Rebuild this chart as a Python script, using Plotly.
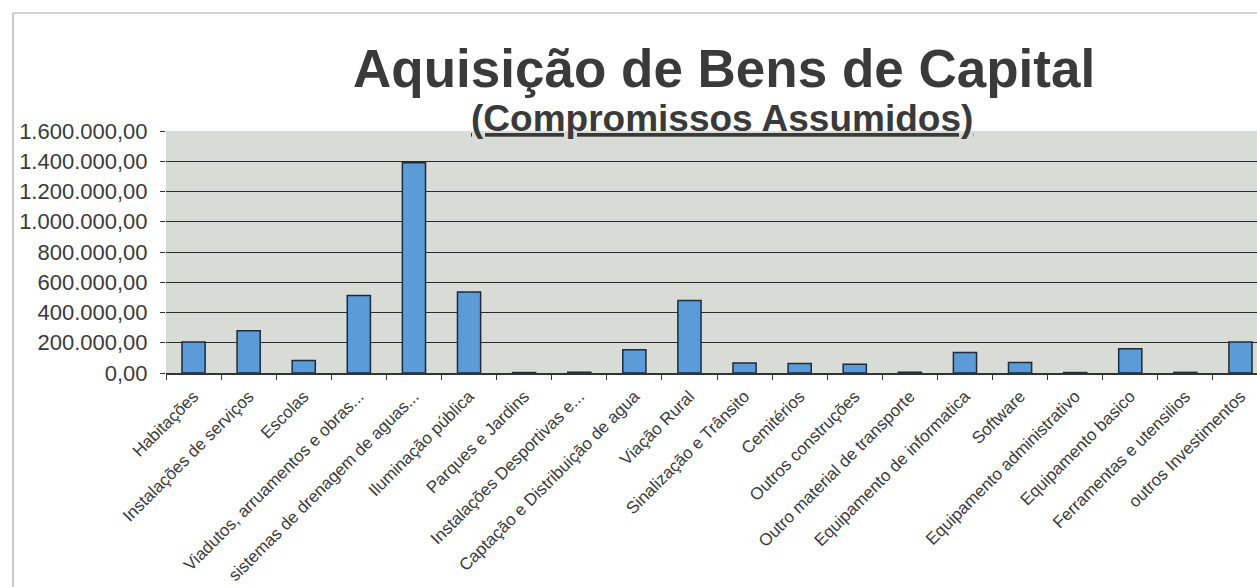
import plotly.graph_objects as go

categories = [
    "Habitações", "Instalações de serviços", "Escolas",
    "Viadutos, arruamentos e obras...", "sistemas de drenagem de aguas...",
    "Iluminação pública", "Parques e Jardins", "Instalações Desportivas e...",
    "Captação e Distribuição de agua", "Viação Rural", "Sinalização e Trânsito",
    "Cemitérios", "Outros construções", "Outro material de transporte",
    "Equipamento de informatica", "Software", "Equipamento administrativo",
    "Equipamento basico", "Ferramentas e utensilios", "outros Investimentos",
]
values = [
    205000, 280000, 83000, 513000, 1390000,
    536000, 3000, 5000, 154000, 480000, 66000,
    62000, 58000, 5000, 135000, 70000, 3000,
    160000, 4000, 205000,
]
y_ticks = [0, 200000, 400000, 600000, 800000, 1000000, 1200000, 1400000, 1600000]

W, H = 1257, 587
L, R, T, B = 166, 0, 131, 214
plot_w = W - L - R
plot_h = H - T - B


def px_x(x):
    return (x - L) / plot_w


def px_y(y):
    return ((H - y) - B) / plot_h


fig = go.Figure()
fig.add_trace(go.Bar(
    x=categories, y=values,
    marker=dict(color="#5b9bd8", line=dict(color="#1f2a3a", width=1.5)),
    width=0.42,
))

fig.update_layout(
    width=W, height=H,
    margin=dict(l=L, r=R, t=T, b=B, autoexpand=False),
    paper_bgcolor="white",
    plot_bgcolor="#d9dbd6",
    separators=",.",
    showlegend=False,
    font=dict(family="Liberation Sans, Arial, sans-serif", color="#3a3a3a"),
    xaxis=dict(
        type="category",
        range=[-0.5, 19.3],
        tickangle=-45,
        tickfont=dict(size=17, color="#3a3a3a"),
        ticks="outside", tickson="boundaries", ticklen=5, tickcolor="#333",
        ticklabelstandoff=5,
        showline=True, linecolor="#333", linewidth=1.5,
        showgrid=False,
        automargin=False,
    ),
    yaxis=dict(
        range=[0, 1600000],
        tickvals=y_ticks,
        tickformat=",.2f",
        tickfont=dict(size=22, color="#3a3a3a"),
        ticks="outside", ticklen=5, tickcolor="#333",
        ticklabelstandoff=8,
        showgrid=True, gridcolor="#2a2a2a", gridwidth=1.4,
        zeroline=False,
        showline=False,
        automargin=False,
    ),
    annotations=[
        dict(text="<b>Aquisição de Bens de Capital</b>", x=px_x(724), y=px_y(68),
             xref="paper", yref="paper", showarrow=False,
             font=dict(size=53, color="#3a3a3a"), xanchor="center", yanchor="middle"),
        dict(text="<b><u>(Compromissos Assumidos)</u></b>", x=px_x(722), y=px_y(118),
             xref="paper", yref="paper", showarrow=False,
             font=dict(size=37, color="#3a3a3a"), xanchor="center", yanchor="middle"),
    ],
    shapes=[
        dict(type="line", xref="paper", yref="paper", x0=px_x(13), x1=px_x(W), y0=px_y(13), y1=px_y(13),
             line=dict(color="#a8a8a8", width=1.2)),
        dict(type="line", xref="paper", yref="paper", x0=px_x(13), x1=px_x(13), y0=px_y(H), y1=px_y(13),
             line=dict(color="#a8a8a8", width=1.2)),
    ],
)

fig.write_html(
    "out.html",
    config={"displayModeBar": False},
    post_script="document.body.style.margin='0';document.body.style.overflow='hidden';",
)
